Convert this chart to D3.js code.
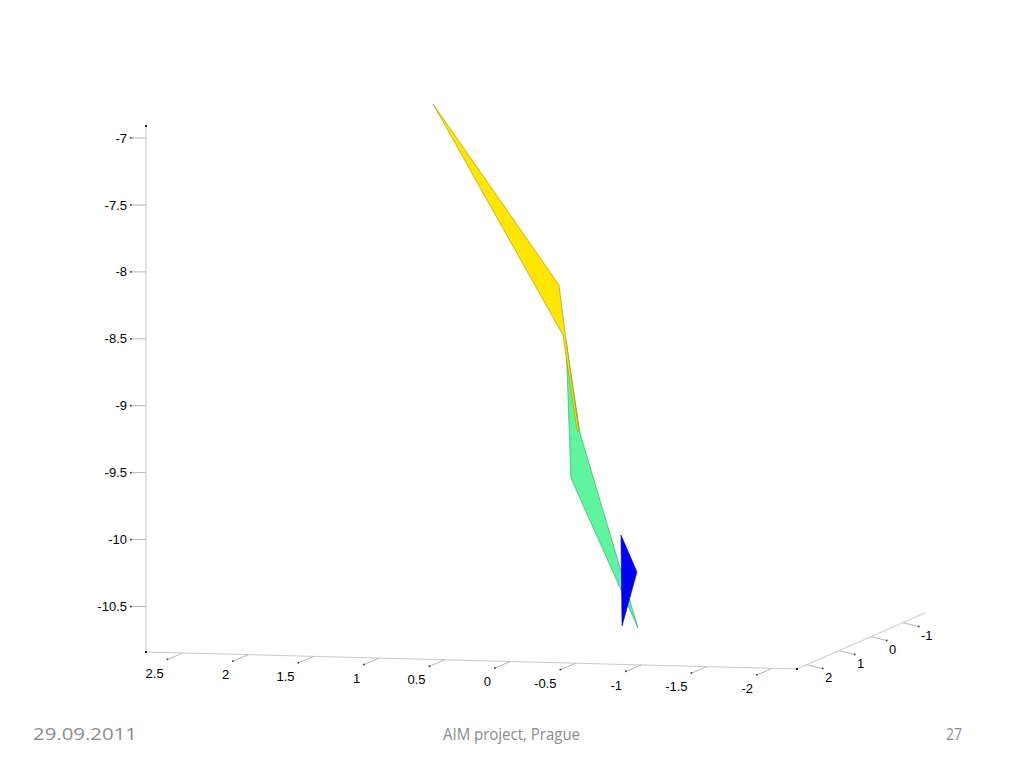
<!DOCTYPE html>
<html>
<head>
<meta charset="utf-8">
<script src="https://cdn.jsdelivr.net/npm/d3@7"></script>
<style>
  html, body { margin: 0; padding: 0; background: #ffffff; }
  svg { display: block; }
</style>
</head>
<body>
<svg id="chart" width="1024" height="768"></svg>
<script>
// ---------------- data ----------------
// axis limits
const xLimits = [2.78, -2.19];
const yLimits = [2.31, -1.69];
const zLimits = [-10.84, -6.91];
// tick values / labels
const xTicks = [2.5, 2, 1.5, 1, 0.5, 0, -0.5, -1, -1.5, -2];
const yTicks = [2, 1, 0, -1];
const zTicks = [-7, -7.5, -8, -8.5, -9, -9.5, -10, -10.5];
// surface patches (vertex coordinates in data units)
const yellowX = [1.031, 0.069, 0.023, -0.083, -0.068, 0.039];
const yellowY = [0.5, 0.5, 0.5, 0.5, 0.5, 0.5];
const yellowZ = [-6.890, -8.218, -8.575, -9.312, -9.298, -8.591];
const greenX = [0.016, -0.022, -0.534, -0.091];
const greenY = [0.5, 0.5, 0.5, 0.5];
const greenZ = [-8.628, -9.658, -10.765, -9.320];
const blueX = [-0.404, -0.526, -0.412];
const blueY = [0.5, 0.5, 0.5];
const blueZ = [-10.074, -10.347, -10.753];
// footer texts
const footerDate = "29.09.2011";
const footerTitle = "AIM project, Prague";
const footerPage = "27";

// ---------------- projection ----------------
const svg = d3.select("#chart");
const origin = [146, 652];
const vecX = [651, 17];
const vecY = [128, -56];
const vecZ = [0, -526];
const fx = d3.scaleLinear().domain(xLimits).range([0, 1]);
const fy = d3.scaleLinear().domain(yLimits).range([0, 1]);
const fz = d3.scaleLinear().domain(zLimits).range([0, 1]);
function proj(x, y, z) {
  const a = fx(x), b = fy(y), c = fz(z);
  return [origin[0] + a * vecX[0] + b * vecY[0] + c * vecZ[0],
          origin[1] + a * vecX[1] + b * vecY[1] + c * vecZ[1]];
}
const fmt = t => String(t); // plain hyphen-minus like MATLAB

const axisColor = "#c9c9c9";
const tickColor = "#b5b5b5";
const labelFont = "'Liberation Sans', Arial, Helvetica, sans-serif";

const gAxes = svg.append("g");
const xa0 = proj(xLimits[0], yLimits[0], zLimits[0]);
const xa1 = proj(xLimits[1], yLimits[0], zLimits[0]);
const ya1 = proj(xLimits[1], yLimits[1], zLimits[0]);
const za1 = proj(xLimits[0], yLimits[0], zLimits[1]);
const line = d3.line();
gAxes.append("path").attr("d", line([xa0, xa1])).attr("stroke", axisColor).attr("fill", "none");
gAxes.append("path").attr("d", line([xa1, ya1])).attr("stroke", axisColor).attr("fill", "none");
gAxes.append("path").attr("d", line([xa0, za1])).attr("stroke", axisColor).attr("fill", "none");
[xa0, xa1, za1].forEach(p => {
  gAxes.append("rect").attr("x", p[0] - 1).attr("y", p[1] - 1).attr("width", 2).attr("height", 2).attr("fill", "#222");
});

// x ticks
xTicks.forEach(t => {
  const p0 = proj(t, yLimits[0], zLimits[0]);
  const p1 = proj(t, yLimits[0] + 0.47, zLimits[0]);
  gAxes.append("path").attr("d", line([p0, p1])).attr("stroke", tickColor).attr("fill", "none");
  gAxes.append("rect").attr("x", p1[0] - 1).attr("y", p1[1] - 1).attr("width", 1.6).attr("height", 1.6).attr("fill", "#333");
  gAxes.append("text").attr("x", p1[0] - 4).attr("y", p1[1] + 18)
    .attr("text-anchor", "end").attr("font-family", labelFont).attr("font-size", 13).attr("fill", "#000")
    .text(fmt(t));
});
// y ticks
yTicks.forEach(t => {
  const p0 = proj(xLimits[1], t, zLimits[0]);
  const p1 = [p0[0] + 16, p0[1] + 4];
  gAxes.append("path").attr("d", line([p0, p1])).attr("stroke", tickColor).attr("fill", "none");
  gAxes.append("rect").attr("x", p1[0] - 1).attr("y", p1[1] - 1).attr("width", 1.6).attr("height", 1.6).attr("fill", "#333");
  gAxes.append("text").attr("x", p1[0] + 2).attr("y", p1[1] + 13)
    .attr("text-anchor", "start").attr("font-family", labelFont).attr("font-size", 13).attr("fill", "#000")
    .text(fmt(t));
});
// z ticks
zTicks.forEach(t => {
  const p0 = proj(xLimits[0], yLimits[0], t);
  const p1 = [p0[0] - 15, p0[1]];
  gAxes.append("path").attr("d", line([p0, p1])).attr("stroke", tickColor).attr("fill", "none");
  gAxes.append("rect").attr("x", p1[0] - 1).attr("y", p1[1] - 0.8).attr("width", 1.6).attr("height", 1.6).attr("fill", "#333");
  gAxes.append("text").attr("x", p1[0] - 4).attr("y", p1[1]).attr("dy", "0.35em")
    .attr("text-anchor", "end").attr("font-family", labelFont).attr("font-size", 13).attr("fill", "#000")
    .text(fmt(t));
});

// ---------------- surfaces ----------------
const patches = [
  { xs: greenX, ys: greenY, zs: greenZ, fill: "#5ef59e", stroke: "#2f9c5c" },
  { xs: yellowX, ys: yellowY, zs: yellowZ, fill: "#ffe600", stroke: "#9a9000" },
  { xs: blueX, ys: blueY, zs: blueZ, fill: "#0000f2", stroke: "#0000c8" }
];
const gSurf = svg.append("g");
patches.forEach(pt => {
  const pts = pt.xs.map((x, i) => proj(x, pt.ys[i], pt.zs[i]));
  gSurf.append("path").attr("d", d3.line()(pts) + "Z")
    .attr("fill", pt.fill).attr("stroke", pt.stroke).attr("stroke-width", 0.6)
    .attr("stroke-linejoin", "round");
});

// ---------------- footer ----------------
const footFont = "'Open Sans', 'Liberation Sans', sans-serif";
const gFoot = svg.append("g").attr("font-family", footFont).attr("fill", "#8c8c8c");
gFoot.append("text").attr("x", 33).attr("y", 740).attr("font-size", 17).attr("textLength", 104).attr("lengthAdjust", "spacingAndGlyphs").text(footerDate);
gFoot.append("text").attr("x", 443).attr("y", 740).attr("font-size", 16).attr("textLength", 137).attr("lengthAdjust", "spacingAndGlyphs").text(footerTitle);
gFoot.append("text").attr("x", 946).attr("y", 740).attr("font-size", 16).attr("textLength", 16).attr("lengthAdjust", "spacingAndGlyphs").text(footerPage);
</script>
</body>
</html>
